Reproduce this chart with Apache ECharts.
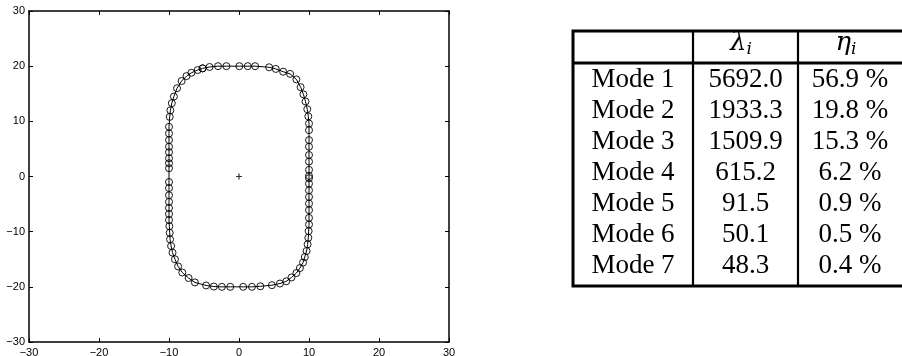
<!DOCTYPE html>
<html><head><meta charset="utf-8">
<script src="https://cdn.jsdelivr.net/npm/echarts@6/dist/echarts.min.js"></script>
<style>html,body{margin:0;padding:0;background:#fff}#c{width:902px;height:356px}</style>
</head><body><div id="c"></div>
<script>
// ---- data ----
const contourX = [
  -5.2, -4.2, -3.0, -1.8, 0.05, 1.25, 2.3, 4.3, 5.25, 6.3,
  7.3, 8.2, 8.8, 9.2, 9.5, 9.75, 9.9,
  10.0, 10.0, 10.0, 10.0, 10.0, 10.0, 10.0, 10.0, 10.0, 10.0, 10.0, 10.0, 10.0, 10.0, 10.0, 10.0, 9.95, 9.9, 9.8,
  9.65, 9.4, 9.15, 8.7, 8.2, 7.5, 6.75, 5.85, 4.7,
  3.05, 1.85, 0.6, -1.25, -2.45, -3.6, -4.7,
  -6.3, -7.2, -8.1, -8.7, -9.15, -9.5, -9.7,
  -9.85, -9.9, -9.95, -10, -10, -10, -10, -10, -10, -10, -10, -10, -10, -10, -10, -10, -10, -10, -9.9, -9.8,
  -9.6, -9.3, -8.85, -8.2, -7.5, -6.8, -5.9
];
const contourY = [
  19.6, 19.85, 20.0, 20.0, 20.0, 20.0, 20.0, 19.8, 19.5, 19.0,
  18.6, 17.6, 16.2, 14.9, 13.6, 12.2, 10.9,
  9.6, 8.4, 6.6, 5.4, 3.9, 2.7, 1.2, 0.1, -0.3, -1.3, -2.5, -3.7, -4.9, -6.1, -7.5, -8.7, -9.9, -11.1, -12.3,
  -13.5, -14.6, -15.6, -16.6, -17.5, -18.3, -19.0, -19.4, -19.7,
  -19.9, -20.0, -20.0, -20.0, -20.0, -19.95, -19.75,
  -19.2, -18.4, -17.4, -16.3, -15.0, -13.8, -12.6,
  -11.4, -10.2, -9.0, -7.9, -6.8, -5.7, -4.6, -3.4, -2.1, -1.0, 1.5, 2.4, 3.3, 4.4, 5.4, 6.6, 7.8, 9.0, 10.8, 12.0,
  13.3, 14.5, 16.0, 17.3, 18.2, 18.8, 19.3
];
const centroid = [0, 0];
const xTicks = [-30, -20, -10, 0, 10, 20, 30];
const yTicks = [-30, -20, -10, 0, 10, 20, 30];

const modeNames = ['Mode 1', 'Mode 2', 'Mode 3', 'Mode 4', 'Mode 5', 'Mode 6', 'Mode 7'];
const lambdaValues = [5692.0, 1933.3, 1509.9, 615.2, 91.5, 50.1, 48.3];
const etaValues = [56.9, 19.8, 15.3, 6.2, 0.9, 0.5, 0.4];
const headerSymbols = ['\u03BB', '\u03B7'];
const headerSubscript = 'i';

// ---- layout ----
const fmt = v => (v < 0 ? '\u2212' + Math.abs(v) : String(v));
const points = contourX.map((x, i) => [x, contourY[i]]);
points.push(points[0]);

const tableLeft = 573, tableTop = 31, tableW = 332, tableH = 255;
const rowPitch = 31, row0Px = 49;             // pixel centre of header row
const rMin = (tableTop - row0Px) / rowPitch;
const rMax = (tableTop + tableH - row0Px) / rowPitch;
const headerRuleR = (63 - row0Px) / rowPitch;
const colEdges = [0, 120, 225, tableW];
const colCenters = [60, 172.5, 277];

const rowTexts = modeNames.map((m, i) => [m, lambdaValues[i].toFixed(1), etaValues[i].toFixed(1) + ' %']);
const rowData = rowTexts.map((t, i) => [i + 1]);
const ruleData = [
  [colEdges[0], headerRuleR, colEdges[3], headerRuleR, 3],
  [colEdges[1], rMin, colEdges[1], rMax, 2.2],
  [colEdges[2], rMin, colEdges[2], rMax, 2.2]
];

const serif = '"Liberation Serif", "DejaVu Serif", serif';
const sans = '"Liberation Sans", Arial, sans-serif';

const axisCommon = {
  type: 'value', min: -30, max: 30, interval: 10,
  axisLine: { show: true, onZero: false, lineStyle: { color: '#000', width: 1.5 } },
  axisTick: { show: true, inside: true, length: 4, lineStyle: { color: '#000', width: 1 } },
  splitLine: { show: false }
};

const chart = echarts.init(document.getElementById('c'));
chart.setOption({
  animation: false,
  backgroundColor: '#fff',
  grid: [
    { left: 29, top: 11, width: 420, height: 331, containLabel: false, outerBoundsMode: 'none' },
    { left: tableLeft, top: tableTop, width: tableW, height: tableH, show: true,
      borderColor: '#000', borderWidth: 3, backgroundColor: 'transparent', outerBoundsMode: 'none' }
  ],
  xAxis: [
    Object.assign({}, axisCommon, { gridIndex: 0, position: 'bottom', min: xTicks[0], max: xTicks[xTicks.length - 1],
      axisLabel: { color: '#000', fontSize: 11, fontFamily: sans, margin: 5, formatter: fmt, showMinLabel: true, showMaxLabel: true } }),
    Object.assign({}, axisCommon, { gridIndex: 0, position: 'top', axisLabel: { show: false } }),
    { gridIndex: 1, type: 'value', min: 0, max: tableW, show: false }
  ],
  yAxis: [
    Object.assign({}, axisCommon, { gridIndex: 0, position: 'left', min: yTicks[0], max: yTicks[yTicks.length - 1],
      axisLabel: { color: '#000', fontSize: 11, fontFamily: sans, margin: 4, formatter: fmt, showMinLabel: true, showMaxLabel: true } }),
    Object.assign({}, axisCommon, { gridIndex: 0, position: 'right', axisLabel: { show: false } }),
    { gridIndex: 1, type: 'value', min: rMin, max: rMax, inverse: true, show: false }
  ],
  series: [
    {
      type: 'line', xAxisIndex: 0, yAxisIndex: 0, data: points,
      symbol: 'circle', symbolSize: 7, showSymbol: true, showAllSymbol: true,
      itemStyle: { color: 'rgba(0,0,0,0)', borderColor: '#000', borderWidth: 0.9 },
      lineStyle: { color: '#000', width: 1 },
      emphasis: { disabled: true }, silent: true, z: 3
    },
    {
      type: 'scatter', xAxisIndex: 0, yAxisIndex: 0, data: [centroid],
      symbol: 'path://M4,0h2v4h4v2h-4v4h-2v-4h-4v-2h4z', symbolSize: 6,
      itemStyle: { color: '#000' }, silent: true, z: 4
    },
    {
      type: 'custom', xAxisIndex: 2, yAxisIndex: 2, data: ruleData, silent: true,
      renderItem: function (params, api) {
        const p1 = api.coord([api.value(0), api.value(1)]);
        const p2 = api.coord([api.value(2), api.value(3)]);
        return { type: 'line', shape: { x1: p1[0], y1: p1[1], x2: p2[0], y2: p2[1] },
          style: { stroke: '#000', lineWidth: api.value(4) } };
      }
    },
    {
      type: 'custom', xAxisIndex: 2, yAxisIndex: 2, data: [[0]], silent: true,
      renderItem: function (params, api) {
        const r = api.value(0);
        const children = [];
        headerSymbols.forEach((s, k) => {
          const p = api.coord([colCenters[k + 1], r]);
          children.push({ type: 'text', style: { text: s, x: p[0] + 1, y: p[1] - 6, fill: '#000',
            fontStyle: 'italic', fontSize: 26, fontFamily: 'DejaVu Serif', align: 'right', verticalAlign: 'middle' } });
          children.push({ type: 'text', style: { text: headerSubscript, x: p[0] + 1, y: p[1] + 1, fill: '#000',
            fontStyle: 'italic', fontSize: 17, fontFamily: 'DejaVu Serif', align: 'left', verticalAlign: 'middle' } });
        });
        return { type: 'group', children };
      }
    },
    {
      type: 'custom', xAxisIndex: 2, yAxisIndex: 2, data: rowData, silent: true,
      renderItem: function (params, api) {
        const r = api.value(0);
        const texts = rowTexts[params.dataIndex];
        const children = colCenters.map((cx, c) => {
          const p = api.coord([cx, r]);
          return { type: 'text', style: { text: texts[c], x: p[0], y: p[1], fill: '#000',
            fontSize: 27, fontFamily: serif, align: 'center', verticalAlign: 'middle' } };
        });
        return { type: 'group', children };
      }
    }
  ]
});
</script>
</body></html>
